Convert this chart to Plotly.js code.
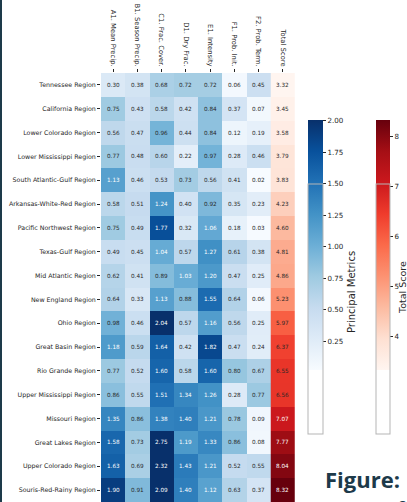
<!DOCTYPE html>
<html>
<head>
<meta charset="utf-8">
<script src="https://cdn.plot.ly/plotly-3.0.1.min.js"></script>
<style>
html,body{margin:0;padding:0;background:#fff;overflow:hidden;width:407px;height:502px;}
#chart{width:407px;height:502px;}
#edge{position:absolute;left:0;top:0;width:2px;height:502px;background:#1d3a4a;z-index:10;}
</style>
</head>
<body>
<div id="edge"></div>
<div id="chart"></div>
<script>
const regions = [
  "Tennessee Region","California Region","Lower Colorado Region","Lower Mississippi Region",
  "South Atlantic-Gulf Region","Arkansas-White-Red Region","Pacific Northwest Region","Texas-Gulf Region",
  "Mid Atlantic Region","New England Region","Ohio Region","Great Basin Region","Rio Grande Region",
  "Upper Mississippi Region","Missouri Region","Great Lakes Region","Upper Colorado Region","Souris-Red-Rainy Region"
];
const metricLabels = ["A1. Mean Precip.","B1. Season Precip.","C1. Frac. Cover.","D1. Dry Frac.","E1. Intensity","F1. Prob. Init.","F2. Prob. Term."];
const totalLabel = "Total Score";
const blueBarTitle = "Principal Metrics";
const redBarTitle = "Total Score";

const A1 = [0.30,0.75,0.56,0.77,1.13,0.58,0.75,0.49,0.62,0.64,0.98,1.18,0.77,0.86,1.35,1.58,1.63,1.90];
const B1 = [0.38,0.43,0.47,0.48,0.46,0.51,0.49,0.45,0.41,0.33,0.46,0.59,0.52,0.55,0.86,0.73,0.69,0.91];
const C1 = [0.68,0.58,0.96,0.60,0.53,1.24,1.77,1.04,0.89,1.13,2.04,1.64,1.60,1.51,1.38,2.75,2.32,2.09];
const D1 = [0.72,0.42,0.44,0.22,0.73,0.40,0.32,0.57,1.03,0.88,0.57,0.42,0.58,1.34,1.40,1.19,1.43,1.40];
const E1 = [0.72,0.84,0.84,0.97,0.56,0.92,1.06,1.27,1.20,1.55,1.16,1.82,1.60,1.26,1.21,1.33,1.21,1.12];
const F1 = [0.06,0.37,0.12,0.28,0.41,0.35,0.18,0.61,0.47,0.64,0.56,0.47,0.80,0.28,0.78,0.86,0.52,0.63];
const F2 = [0.45,0.07,0.19,0.46,0.02,0.23,0.03,0.38,0.25,0.06,0.25,0.24,0.67,0.77,0.09,0.08,0.55,0.37];
const totalScore = [3.32,3.45,3.58,3.79,3.83,4.23,4.60,4.81,4.86,5.23,5.97,6.37,6.55,6.56,7.07,7.77,8.04,8.32];

const blueTicks = [0.25,0.50,0.75,1.00,1.25,1.50,1.75,2.00];
const redTicks = [4,5,6,7,8];

const cols = [A1,B1,C1,D1,E1,F1,F2];
const allLabels = [...metricLabels, totalLabel];
const colIdx = allLabels.map((l,i)=>i);
const zMetrics = regions.map((r,i)=>cols.map(c=>c[i]));
const zTotal = totalScore.map(v=>[v]);
const allMetric = [].concat(...cols);
const metricMin = Math.min(...allMetric);
const metricMax = 2.0;

const blueEdges = metricLabels.map((l,i)=>i-0.5).concat([metricLabels.length-0.5]);
const redEdges = [metricLabels.length-0.5, metricLabels.length+0.5];

const blues = [[0,'#f7fbff'],[0.125,'#deebf7'],[0.25,'#c6dbef'],[0.375,'#9ecae1'],[0.5,'#6baed6'],[0.625,'#4292c6'],[0.75,'#2171b5'],[0.875,'#08519c'],[1,'#08306b']];
const reds = [[0,'#fff5f0'],[0.125,'#fee0d2'],[0.25,'#fcbba1'],[0.375,'#fc9272'],[0.5,'#fb6a4a'],[0.625,'#ef3b2c'],[0.75,'#cb181d'],[0.875,'#a50f15'],[1,'#67000d']];

const W = 407, H = 502;
const font = "DejaVu Sans";
const txtDark = '#262626';
const plotL = 101, plotR = 295, plotT = 73;
const px2paperX = p => (p-plotL)/(plotR-plotL);
const px2paperY = p => (H-p)/(H-plotT);

const traces = [
  {
    type:'heatmap', x:blueEdges, y:regions, z:zMetrics,
    colorscale:blues, zmin:metricMin, zmax:metricMax, hoverinfo:'skip',
    colorbar:{
      xref:'container', yref:'container', x:308/W, xanchor:'left', xpad:0, ypad:0,
      y:(H-141)/H, yanchor:'top', len:292/H, lenmode:'fraction',
      thickness:15, thicknessmode:'pixels', outlinecolor:'#b5b5b5', outlinewidth:1,
      tickvals:blueTicks, tickformat:'.2f', ticks:'outside', ticklen:3, tickcolor:txtDark,
      tickfont:{family:font,size:7.1,color:txtDark}
    }
  },
  {
    type:'heatmap', x:redEdges, y:regions, z:zTotal,
    colorscale:reds, hoverinfo:'skip',
    colorbar:{
      xref:'container', yref:'container', x:376/W, xanchor:'left', xpad:0, ypad:0,
      y:(H-141)/H, yanchor:'top', len:292/H, lenmode:'fraction',
      thickness:14, thicknessmode:'pixels', outlinecolor:'#b5b5b5', outlinewidth:1,
      tickvals:redTicks, ticks:'outside', ticklen:3, tickcolor:txtDark,
      tickfont:{family:font,size:7.1,color:txtDark}
    }
  }
];

const annotations = [];
regions.forEach((r,i)=>{
  cols.forEach((c,j)=>{
    const v = c[i];
    annotations.push({x:colIdx[j], y:r, xref:'x', yref:'y', text:v.toFixed(2), showarrow:false,
      font:{family:font,size:5.7,color: v>=1.0 ? '#ffffff' : txtDark}});
  });
  const t = totalScore[i];
  annotations.push({x:colIdx[cols.length], y:r, xref:'x', yref:'y', text:t.toFixed(2), showarrow:false,
    font:{family:font,size:5.7,color: t>=7.0 ? '#ffffff' : txtDark}});
});

// colorbar titles
annotations.push({xref:'paper', yref:'paper', x:px2paperX(351), y:px2paperY(292),
  xanchor:'center', yanchor:'middle', textangle:-90, showarrow:false, text:blueBarTitle,
  font:{family:font,size:10,color:txtDark}});
annotations.push({xref:'paper', yref:'paper', x:px2paperX(402), y:px2paperY(288),
  xanchor:'center', yanchor:'middle', textangle:-90, showarrow:false, text:redBarTitle,
  font:{family:font,size:9.5,color:txtDark}});

// slide caption
annotations.push({
  xref:'paper', yref:'paper', x:px2paperX(323), y:px2paperY(462),
  xanchor:'left', yanchor:'top', align:'left', showarrow:false,
  text:'<b>Figure:</b> Heatmap of the<br>scores for each region',
  font:{family:'Open Sans',size:22,color:'#1d3a4a'}
});

const layout = {
  width:W, height:H,
  margin:{l:plotL, r:W-plotR, t:plotT, b:0, pad:0},
  paper_bgcolor:'#ffffff', plot_bgcolor:'#ffffff',
  font:{family:font,color:txtDark},
  showlegend:false,
  xaxis:{range:[-0.5, allLabels.length-0.5], tickvals:colIdx, ticktext:allLabels,
    side:'top', tickangle:90, ticks:'outside', ticklen:3, tickcolor:txtDark,
    tickfont:{family:font,size:6.8,color:txtDark}, showgrid:false, zeroline:false, showline:false, fixedrange:true},
  yaxis:{type:'category', categoryorder:'array', categoryarray:regions, autorange:'reversed',
    ticks:'outside', ticklen:3, tickcolor:txtDark,
    tickfont:{family:font,size:6.3,color:txtDark}, showgrid:false, zeroline:false, showline:false, fixedrange:true},
  annotations:annotations
};

Plotly.newPlot('chart', traces, layout, {displayModeBar:false, staticPlot:true});
</script>
</body>
</html>
